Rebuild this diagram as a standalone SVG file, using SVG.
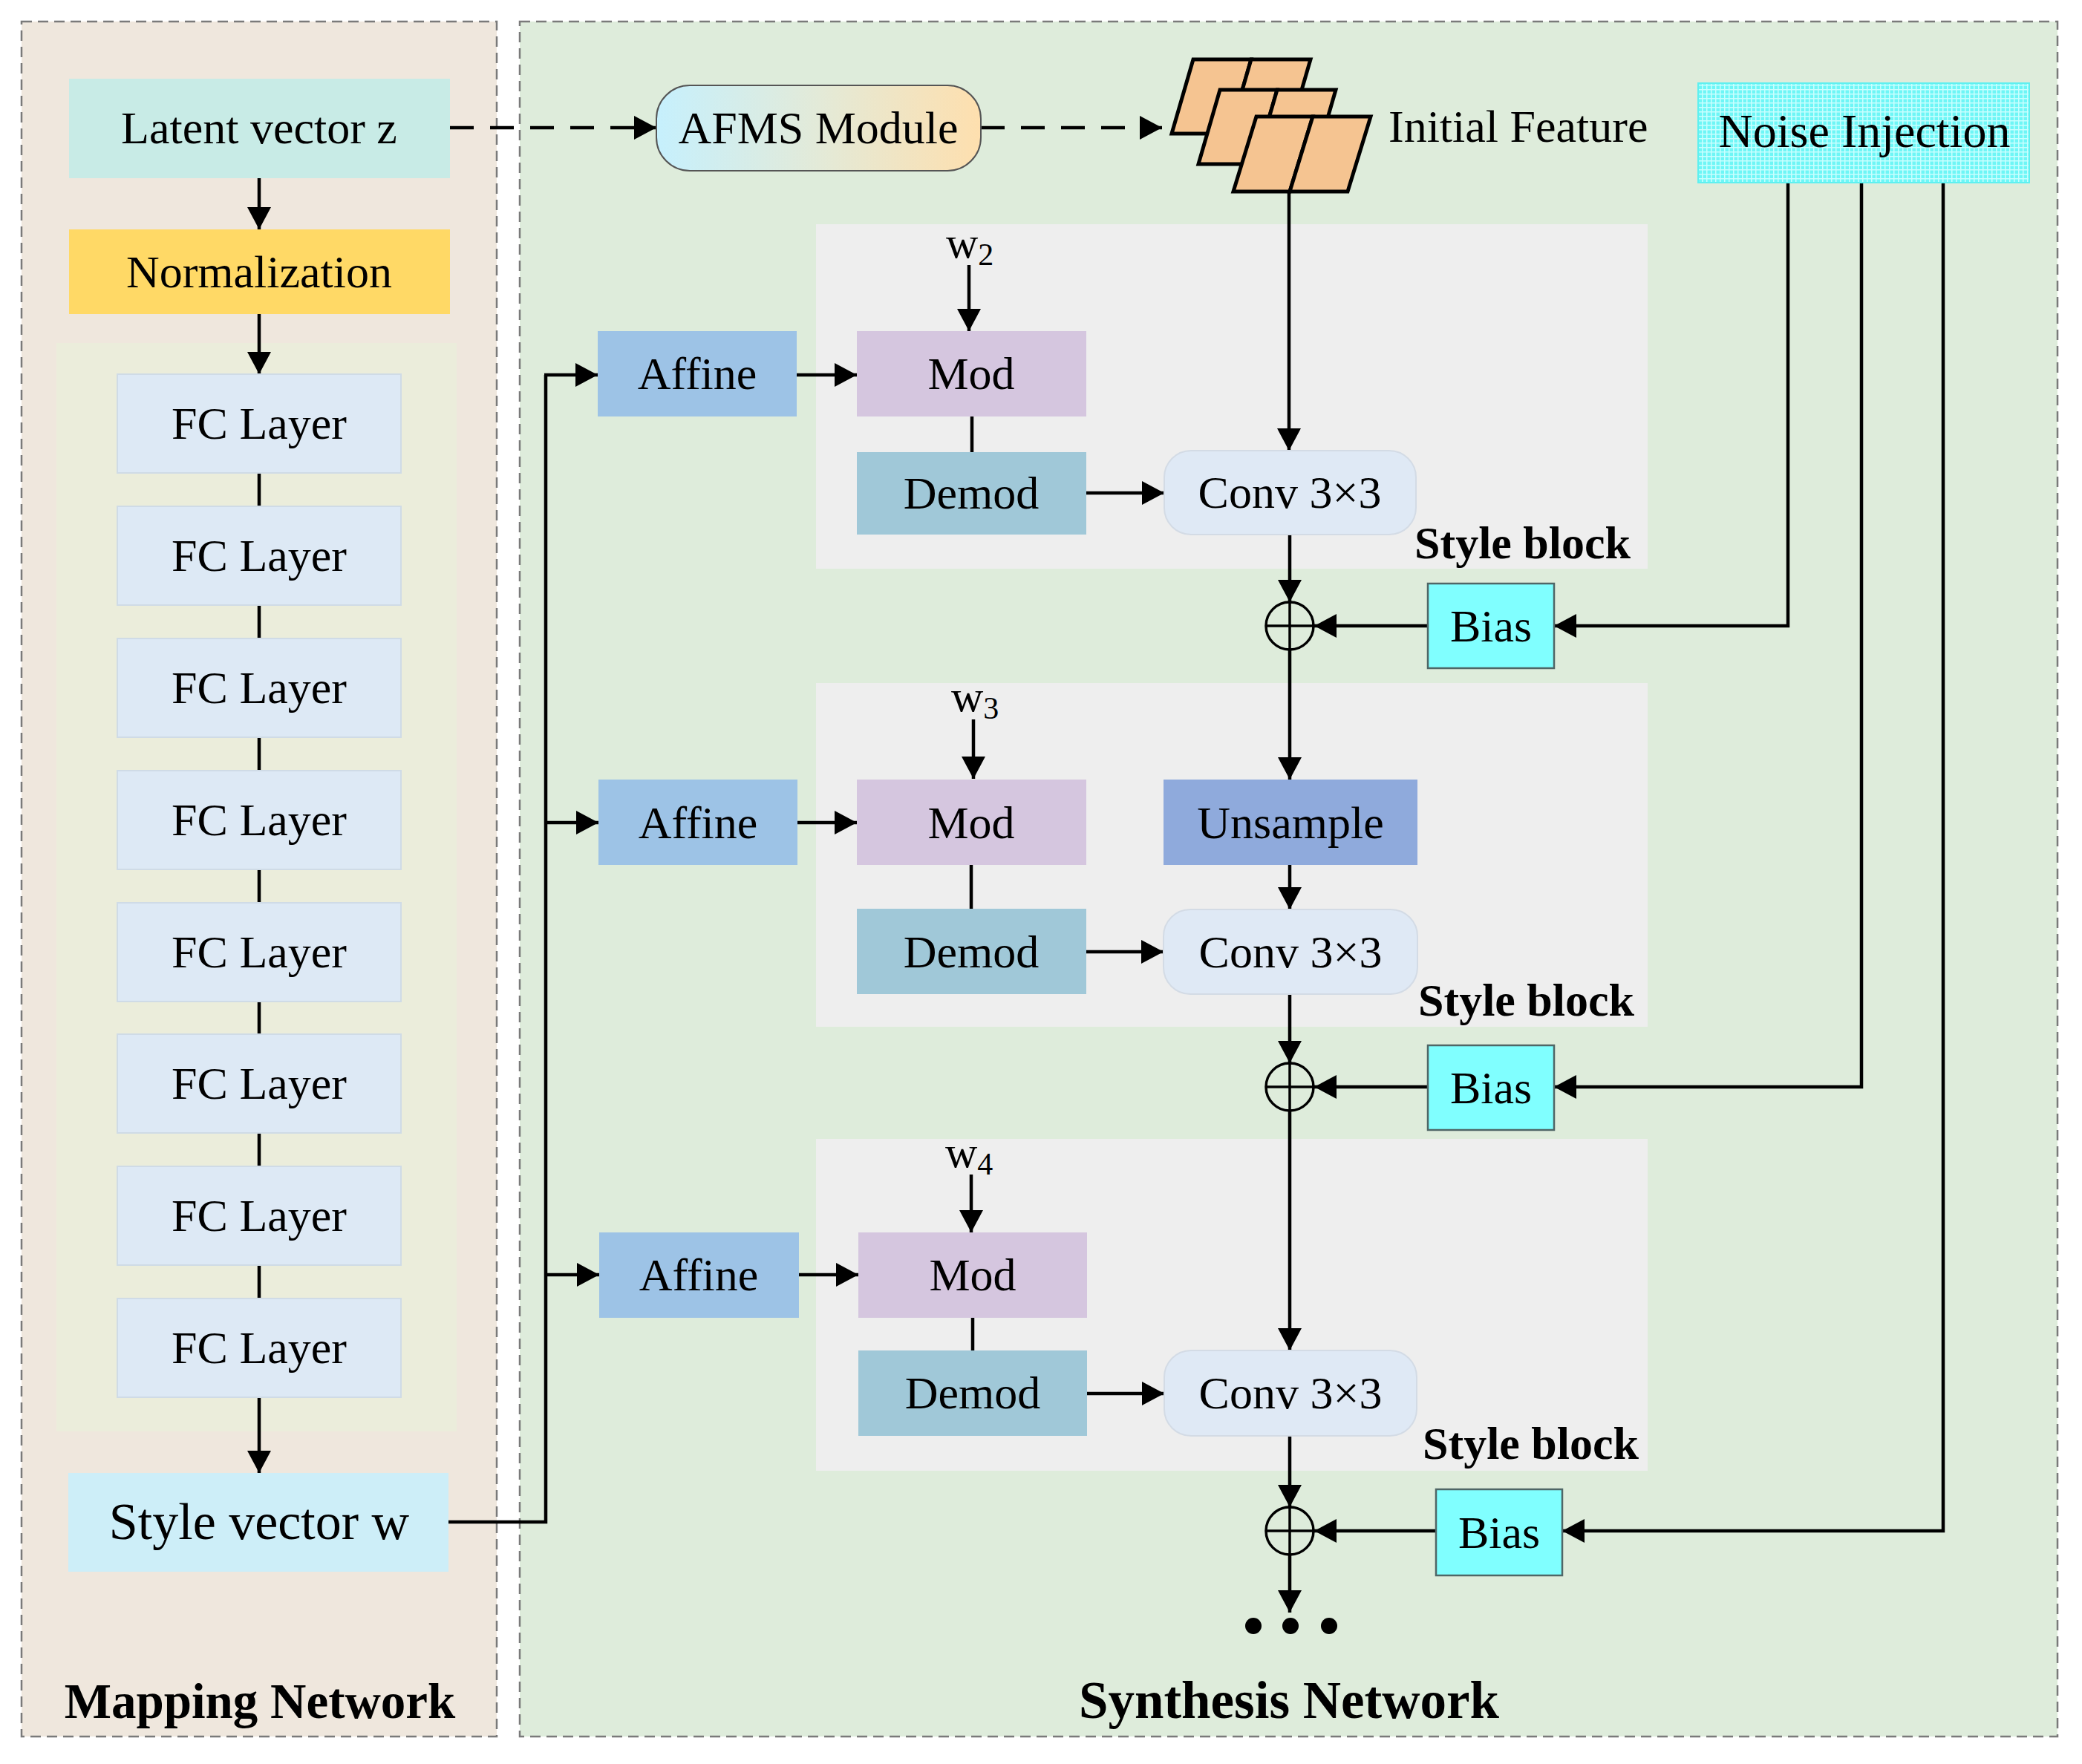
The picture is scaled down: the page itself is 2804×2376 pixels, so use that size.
<svg xmlns="http://www.w3.org/2000/svg" width="2804" height="2376" viewBox="0 0 2804 2376">
<defs>
<marker id="ah" markerUnits="userSpaceOnUse" markerWidth="34" markerHeight="34" refX="30" refY="16" orient="auto">
<path d="M0,0 L30,16 L0,32 Z" fill="#000"/>
</marker>
<linearGradient id="afms" x1="0" y1="0" x2="1" y2="0">
<stop offset="0" stop-color="#c6f0fd"/>
<stop offset="0.5" stop-color="#e3ead8"/>
<stop offset="1" stop-color="#fedfae"/>
</linearGradient>
<pattern id="grid" width="6" height="6" patternUnits="userSpaceOnUse">
<rect width="6" height="6" fill="#6ef6f6"/>
<path d="M0,0.75 H6 M0.75,0 V6" stroke="#c8ffff" stroke-width="1.5"/>
</pattern>
<style>
.t{font-family:"Liberation Serif","Times New Roman",serif;font-size:62px;fill:#000;text-anchor:middle}
.b{font-family:"Liberation Serif","Times New Roman",serif;font-weight:bold;fill:#000}
.w{font-family:"Liberation Serif","Times New Roman",serif;font-size:60px;fill:#000}
.panel{stroke:#7a7a7a;stroke-width:2.5;stroke-dasharray:14 8}
.fc{fill:#dde9f5;stroke:#cfdbe6;stroke-width:2}
.aff{fill:#9dc3e6}
.mod{fill:#d5c6df}
.dem{fill:#a0c8d8}
.conv{fill:#dfe9f5;stroke:#d3dbe5;stroke-width:2}
.bias{fill:#80ffff;stroke:#4f6666;stroke-width:2.5}
.sb{fill:#eeeeee}
.ln{fill:none;stroke:#000;stroke-width:4.5}
.ar{fill:none;stroke:#000;stroke-width:4.5;marker-end:url(#ah)}
.da{fill:none;stroke:#000;stroke-width:4.5;stroke-dasharray:32 22;marker-end:url(#ah)}
.par{fill:#f5c491;stroke:#000;stroke-width:5;stroke-linejoin:miter}
</style>
</defs>

<rect width="2804" height="2376" fill="#ffffff"/>

<g id="mapping-panel">
<rect class="panel" x="29" y="29" width="640" height="2310" fill="#efe7dd"/>
<rect x="76" y="462" width="539" height="1466" fill="#ebeddb"/>
<text class="b" x="350" y="2314" font-size="67" text-anchor="middle">Mapping Network</text>
</g>

<g id="synthesis-panel">
<rect class="panel" x="700" y="29" width="2071" height="2310" fill="#deecdb"/>
<rect class="sb" x="1099" y="302" width="1120" height="464"/>
<rect class="sb" x="1099" y="920" width="1120" height="463"/>
<rect class="sb" x="1099" y="1534" width="1120" height="447"/>
<text class="b" x="1736" y="2314" font-size="71" text-anchor="middle">Synthesis Network</text>
</g>

<g id="connectors">
<path class="ar" d="M349,240 V309"/>
<path class="ar" d="M349,423 V504"/>
<path class="ln" d="M349,637 V682 M349,815 V860 M349,993 V1038 M349,1171 V1216 M349,1349 V1393 M349,1526 V1571 M349,1704 V1749" stroke-width="3.5"/>
<path class="ar" d="M349,1882 V1984"/>
<path class="da" d="M606,172 H884"/>
<path class="da" d="M1321,172 H1565"/>
<path class="ln" d="M604,2050 H735 V505"/>
<path class="ar" d="M733,505 H805"/>
<path class="ar" d="M733,1108 H806"/>
<path class="ar" d="M733,1717 H807"/>
<path class="ar" d="M1073,505 H1154"/>
<path class="ar" d="M1305,357 V446"/>
<path class="ln" d="M1309,561 V609" stroke-width="3.5"/>
<path class="ar" d="M1463,664 H1568"/>
<path class="ar" d="M1736,258 V607"/>
<path class="ar" d="M1737,720 V811"/>
<path class="ar" d="M2408,246 V843 H2093"/>
<path class="ar" d="M1923,843 H1770"/>
<path class="ar" d="M1737,875 V1050"/>
<path class="ar" d="M1074,1108 H1154"/>
<path class="ar" d="M1311,969 V1049"/>
<path class="ln" d="M1308,1165 V1224" stroke-width="3.5"/>
<path class="ar" d="M1463,1282 H1567"/>
<path class="ar" d="M1737,1165 V1225"/>
<path class="ar" d="M1737,1339 V1432"/>
<path class="ar" d="M2507,246 V1464 H2093"/>
<path class="ar" d="M1923,1464 H1770"/>
<path class="ar" d="M1737,1496 V1819"/>
<path class="ar" d="M1076,1717 H1156"/>
<path class="ar" d="M1308,1582 V1660"/>
<path class="ln" d="M1310,1775 V1819" stroke-width="3.5"/>
<path class="ar" d="M1464,1877 H1568"/>
<path class="ar" d="M1737,1934 V2030"/>
<path class="ar" d="M2617,246 V2062 H2104"/>
<path class="ar" d="M1934,2062 H1770"/>
<path class="ar" d="M1737,2094 V2172"/>
</g>

<g id="latent">
<rect x="93" y="106" width="513" height="134" fill="#c8ebe6"/>
<text class="t" x="349" y="193">Latent vector z</text>
</g>
<g id="normalization">
<rect x="93" y="309" width="513" height="114" fill="#ffd966"/>
<text class="t" x="349" y="387">Normalization</text>
</g>
<g id="fc1"><rect class="fc" x="158" y="504" width="382" height="133"/><text class="t" x="349" y="591">FC Layer</text></g>
<g id="fc2"><rect class="fc" x="158" y="682" width="382" height="133"/><text class="t" x="349" y="769">FC Layer</text></g>
<g id="fc3"><rect class="fc" x="158" y="860" width="382" height="133"/><text class="t" x="349" y="947">FC Layer</text></g>
<g id="fc4"><rect class="fc" x="158" y="1038" width="382" height="133"/><text class="t" x="349" y="1125">FC Layer</text></g>
<g id="fc5"><rect class="fc" x="158" y="1216" width="382" height="133"/><text class="t" x="349" y="1303">FC Layer</text></g>
<g id="fc6"><rect class="fc" x="158" y="1393" width="382" height="133"/><text class="t" x="349" y="1480">FC Layer</text></g>
<g id="fc7"><rect class="fc" x="158" y="1571" width="382" height="133"/><text class="t" x="349" y="1658">FC Layer</text></g>
<g id="fc8"><rect class="fc" x="158" y="1749" width="382" height="133"/><text class="t" x="349" y="1836">FC Layer</text></g>
<g id="style-vector">
<rect x="92" y="1984" width="512" height="133" fill="#cdeef8"/>
<text class="t" x="349" y="2073" style="font-size:70px">Style vector w</text>
</g>

<g id="afms">
<rect x="884" y="115" width="437" height="115" rx="45" fill="url(#afms)" stroke="#555" stroke-width="2"/>
<text class="t" x="1102" y="193">AFMS Module</text>
</g>

<g id="initial-feature">
<path class="par" d="M1607,80 H1685 L1656,180 H1578 Z"/>
<path class="par" d="M1685,80 H1765 L1736,180 H1656 Z"/>
<path class="par" d="M1643,121 H1720 L1691,221 H1614 Z"/>
<path class="par" d="M1720,121 H1799 L1770,221 H1691 Z"/>
<path class="par" d="M1692,157 H1768 L1737,258 H1661 Z"/>
<path class="par" d="M1768,157 H1846 L1815,258 H1737 Z"/>
<text class="t" x="1870" y="191" style="text-anchor:start">Initial Feature</text>
</g>

<g id="noise-injection">
<rect x="2287" y="112" width="446" height="134" fill="url(#grid)" stroke="#5ff0f0" stroke-width="2"/>
<text class="t" x="2511" y="198" style="font-size:64px">Noise Injection</text>
</g>

<g id="block1">
<g id="w2"><text class="w" x="1274" y="347">w<tspan style="font-size:42px" dy="10">2</tspan></text></g>
<g id="affine1"><rect class="aff" x="805" y="446" width="268" height="115"/><text class="t" x="939" y="524">Affine</text></g>
<g id="mod1"><rect class="mod" x="1154" y="446" width="309" height="115"/><text class="t" x="1308" y="524">Mod</text></g>
<g id="demod1"><rect class="dem" x="1154" y="609" width="309" height="111"/><text class="t" x="1308" y="685">Demod</text></g>
<g id="conv1"><rect class="conv" x="1568" y="607" width="339" height="113" rx="36"/><text class="t" x="1737" y="684">Conv 3×3</text></g>
<text class="b" x="1905" y="752" font-size="62">Style block</text>
<g id="plus1"><circle cx="1737" cy="843" r="32" fill="none" stroke="#000" stroke-width="3.5"/><path d="M1737,811 V875 M1705,843 H1769" stroke="#000" stroke-width="3.5"/></g>
<g id="bias1"><rect class="bias" x="1923" y="786" width="170" height="114"/><text class="t" x="2008" y="864">Bias</text></g>
</g>

<g id="block2">
<g id="w3"><text class="w" x="1281" y="958">w<tspan style="font-size:42px" dy="10">3</tspan></text></g>
<g id="affine2"><rect class="aff" x="806" y="1050" width="268" height="115"/><text class="t" x="940" y="1129">Affine</text></g>
<g id="mod2"><rect class="mod" x="1154" y="1050" width="309" height="115"/><text class="t" x="1308" y="1129">Mod</text></g>
<g id="unsample"><rect x="1567" y="1050" width="342" height="115" fill="#8faadc"/><text class="t" x="1738" y="1129">Unsample</text></g>
<g id="demod2"><rect class="dem" x="1154" y="1224" width="309" height="115"/><text class="t" x="1308" y="1303">Demod</text></g>
<g id="conv2"><rect class="conv" x="1567" y="1225" width="342" height="114" rx="36"/><text class="t" x="1738" y="1303">Conv 3×3</text></g>
<text class="b" x="1910" y="1368" font-size="62">Style block</text>
<g id="plus2"><circle cx="1737" cy="1464" r="32" fill="none" stroke="#000" stroke-width="3.5"/><path d="M1737,1432 V1496 M1705,1464 H1769" stroke="#000" stroke-width="3.5"/></g>
<g id="bias2"><rect class="bias" x="1923" y="1408" width="170" height="114"/><text class="t" x="2008" y="1486">Bias</text></g>
</g>

<g id="block3">
<g id="w4"><text class="w" x="1273" y="1572">w<tspan style="font-size:42px" dy="10">4</tspan></text></g>
<g id="affine3"><rect class="aff" x="807" y="1660" width="269" height="115"/><text class="t" x="941" y="1738">Affine</text></g>
<g id="mod3"><rect class="mod" x="1156" y="1660" width="308" height="115"/><text class="t" x="1310" y="1738">Mod</text></g>
<g id="demod3"><rect class="dem" x="1156" y="1819" width="308" height="115"/><text class="t" x="1310" y="1897">Demod</text></g>
<g id="conv3"><rect class="conv" x="1568" y="1819" width="340" height="115" rx="36"/><text class="t" x="1738" y="1897">Conv 3×3</text></g>
<text class="b" x="1916" y="1965" font-size="62">Style block</text>
<g id="plus3"><circle cx="1737" cy="2062" r="32" fill="none" stroke="#000" stroke-width="3.5"/><path d="M1737,2030 V2094 M1705,2062 H1769" stroke="#000" stroke-width="3.5"/></g>
<g id="bias3"><rect class="bias" x="1934" y="2006" width="170" height="116"/><text class="t" x="2019" y="2085">Bias</text></g>
</g>

<g id="ellipsis">
<circle cx="1688" cy="2190" r="11"/>
<circle cx="1738" cy="2190" r="11"/>
<circle cx="1790" cy="2190" r="11"/>
</g>
</svg>
